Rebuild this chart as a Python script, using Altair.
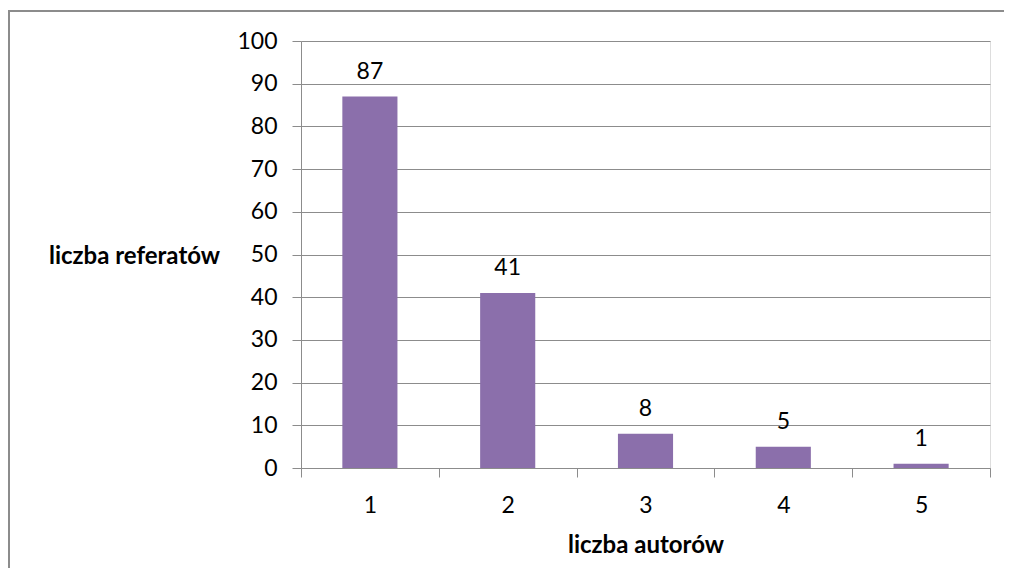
import altair as alt
import pandas as pd

categories = ["1", "2", "3", "4", "5"]
values = [87, 41, 8, 5, 1]
y_ticks = [0, 10, 20, 30, 40, 50, 60, 70, 80, 90, 100]

df = pd.DataFrame({"autorzy": categories, "referaty": values})

FONT = "Lato"
GRID = "#8c8c8c"
BAR = "#8b6fab"

base = alt.Chart(df)

bars = base.mark_bar(color=BAR, width=alt.RelativeBandSize(0.4)).encode(
    x=alt.X(
        "autorzy:N",
        sort=categories,
        scale=alt.Scale(paddingInner=0, paddingOuter=0),
        axis=alt.Axis(
            title="liczba autorów",
            titleFont=FONT, titleFontSize=24, titleFontWeight="bold",
            titleColor="#000000", titleBaseline="alphabetic", titleY=84,
            labelFont=FONT, labelFontSize=23, labelColor="#000000",
            labelAngle=0, labelPadding=17,
            tickBand="extent", tickSize=9, tickColor=GRID, tickWidth=1,
            domainColor=GRID, domainWidth=1, grid=False,
        ),
    ),
    y=alt.Y(
        "referaty:Q",
        scale=alt.Scale(domain=[0, 100], nice=False),
        axis=alt.Axis(
            values=y_ticks,
            title="liczba referatów",
            titleFont=FONT, titleFontSize=24, titleFontWeight="bold",
            titleColor="#000000", titleAngle=0, titleAlign="center",
            titleBaseline="alphabetic", titleX=-167, titleY=222,
            labelFont=FONT, labelFontSize=23, labelColor="#000000",
            labelPadding=15,
            tickSize=9, tickColor=GRID, tickWidth=1,
            domainColor=GRID, domainWidth=1,
            grid=True, gridColor=GRID, gridWidth=1,
        ),
    ),
)

labels = base.mark_text(
    font=FONT, fontSize=23, color="#000000", baseline="alphabetic", dy=-18
).encode(
    x=alt.X("autorzy:N", sort=categories),
    y="referaty:Q",
    text="referaty:Q",
)

frame = alt.Chart(pd.DataFrame({"a": [0]})).mark_rect(
    fill=None, stroke="#8c8c8c", strokeWidth=2
).encode(
    x=alt.value(-292),
    x2=alt.value(720),
    y=alt.value(-30),
    y2=alt.value(600),
)

chart = alt.layer(frame, bars, labels).properties(
    width=689,
    height=427,
    autosize=alt.AutoSizeParams(type="none"),
    padding={"left": 293, "top": 33, "right": 14, "bottom": 100},
).configure_view(stroke=None).configure(background="#ffffff")

chart.save("out.html", embed_options={"renderer": "svg", "actions": False})
